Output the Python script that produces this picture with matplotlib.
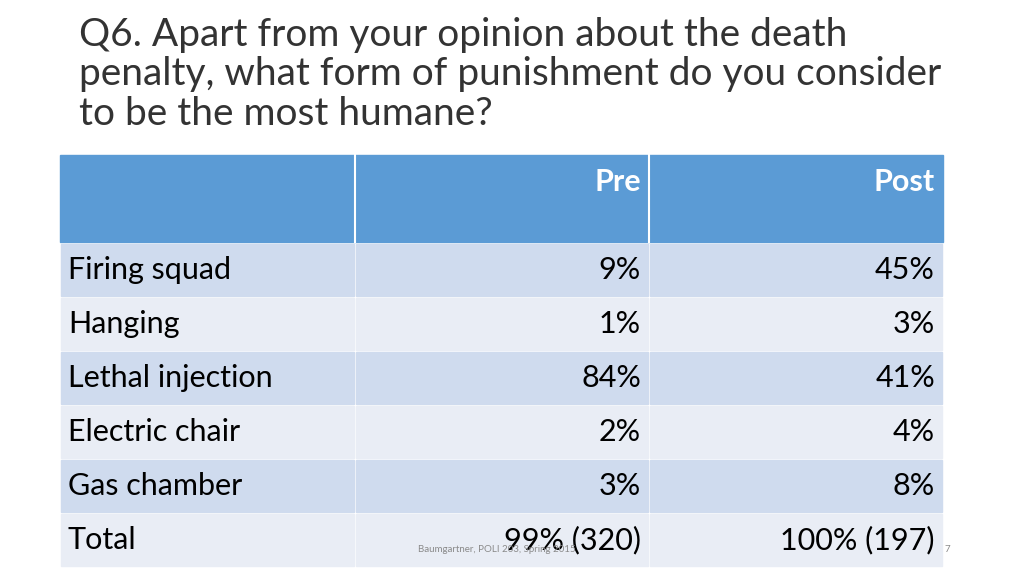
import matplotlib.pyplot as plt
from matplotlib.patches import Rectangle

categorias = ['Firing squad', 'Hanging', 'Lethal injection', 'Electric chair',
              'Gas chamber', 'Total']
pre = ['9%', '1%', '84%', '2%', '3%', '99% (320)']
post = ['45%', '3%', '41%', '4%', '8%', '100% (197)']
colunas = ['Pre', 'Post']

titulo = ('Q6. Apart from your opinion about the death\n'
          'penalty, what form of punishment do you consider\n'
          'to be the most humane?')

plt.rcParams['font.family'] = 'Lato'
fig = plt.figure(figsize=(10.24, 5.76), dpi=100)
ax = fig.add_axes([0, 0, 1, 1])
ax.set_xlim(0, 1024)
ax.set_ylim(576, 0)
ax.axis('off')

ax.text(79, 17, titulo, fontsize=28, va='top', ha='left',
        color='#333333', linespacing=1.12)

x0, x1, x2, x3 = 60, 355, 649, 943
# cabecalho
ax.add_patch(Rectangle((x0, 155), x3 - x0, 87, color='#5B9BD5'))
for xc in (x1, x2):
    ax.plot([xc, xc], [155, 242], color='white', lw=1.5)
ax.text(x2 - 8, 182, colunas[0], color='white', fontsize=22,
        fontweight='bold', ha='right', va='center')
ax.text(x3 - 8, 182, colunas[1], color='white', fontsize=22,
        fontweight='bold', ha='right', va='center')

# linhas
y = 244
h = 52
for i, nome in enumerate(categorias):
    cor = '#CFDBEE' if i % 2 == 0 else '#E9EDF5'
    for a, b in ((x0, x1), (x1, x2), (x2, x3)):
        ax.add_patch(Rectangle((a + 1, y), b - a - 2, h, color=cor))
    yc = y + h / 2
    ax.text(x0 + 8, yc, nome, fontsize=22, va='center', ha='left')
    ax.text(x2 - 8, yc, pre[i], fontsize=22, va='center', ha='right')
    ax.text(x3 - 8, yc, post[i], fontsize=22, va='center', ha='right')
    y += h + 2

ax.text(418, 549, 'Baumgartner, POLI 203, Spring 2015', fontsize=7,
        color='#8a8a8a', ha='left', va='center')
ax.text(944, 549, '7', fontsize=7, color='#8a8a8a', ha='left', va='center')

fig.savefig('out.png', dpi=100)
